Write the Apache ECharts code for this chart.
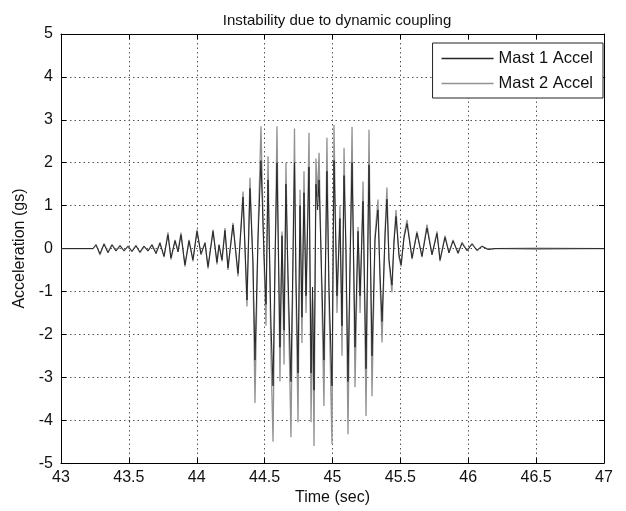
<!DOCTYPE html>
<html>
<head>
<meta charset="utf-8">
<script src="https://cdn.jsdelivr.net/npm/echarts@6/dist/echarts.min.js"></script>
<style>
  html, body { margin: 0; padding: 0; background: #fff; }
  #chart { width: 626px; height: 511px; }
</style>
</head>
<body>
<div id="chart"></div>
<script>
// sample times (sec) of the turning points
const timeSec = [
    43.000, 43.236, 43.258, 43.287, 43.317, 43.346, 43.376, 43.405, 43.435, 43.464,
    43.494, 43.523, 43.552, 43.582, 43.611, 43.641, 43.670, 43.700, 43.729, 43.759,
    43.788, 43.810, 43.840, 43.862, 43.884, 43.913, 43.943, 43.972, 44.002, 44.031,
    44.061, 44.083, 44.120, 44.149, 44.164, 44.186, 44.208, 44.230, 44.267, 44.304,
    44.341, 44.370, 44.392, 44.414, 44.429, 44.451, 44.473, 44.495, 44.510, 44.525,
    44.547, 44.562, 44.576, 44.591, 44.613, 44.628, 44.643, 44.657, 44.672, 44.694,
    44.709, 44.720, 44.731, 44.746, 44.761, 44.775, 44.790, 44.805, 44.827, 44.842,
    44.853, 44.864, 44.878, 44.890, 44.901, 44.937, 44.959, 44.974, 44.996, 45.011,
    45.033, 45.055, 45.070, 45.085, 45.099, 45.114, 45.129, 45.144, 45.166, 45.188,
    45.203, 45.225, 45.247, 45.269, 45.291, 45.313, 45.335, 45.350, 45.365, 45.387,
    45.401, 45.416, 45.438, 45.453, 45.468, 45.490, 45.505, 45.527, 45.549, 45.586,
    45.622, 45.659, 45.696, 45.733, 45.770, 45.792, 45.829, 45.858, 45.888, 45.925,
    45.954, 45.991, 46.028, 46.064, 46.101, 46.146, 46.197, 46.500, 47.000
];

// Mast 1 accel (gs)
const mast1 = [
    0, 0, 0.08, -0.12, 0.10, -0.10, 0.08, -0.06, 0.06, -0.05,
    0.05, -0.07, 0.06, -0.08, 0.06, -0.06, 0.08, -0.12, 0.12, -0.18,
    0.32, -0.22, 0.18, -0.08, 0.32, -0.38, 0.18, -0.26, 0.40, -0.12,
    0.12, -0.42, 0.40, -0.32, 0.08, -0.26, 0.42, -0.45, 0.55, -0.58,
    1.20, -1.20, 1.40, -0.30, -2.60, 0.20, 2.05, -0.10, -1.30, 1.60,
    -1.80, -3.20, -0.40, 2.00, -2.30, 0.30, -1.90, 1.50, -0.60, -3.10,
    -0.20, 2.00, -0.70, -2.90, 1.00, -1.60, 1.30, -1.10, 1.90, -2.90,
    -0.90, -3.30, 1.50, 0.90, 1.60, -2.60, 1.80, -0.90, -3.20, 2.05,
    -1.10, 0.70, -1.80, 1.70, 0.00, -3.10, -0.40, 2.00, -2.30, 0.40,
    -1.10, 1.10, -2.80, 1.95, -2.50, 0.20, 0.90, -0.60, -1.70, 0.30,
    1.15, -0.25, -0.85, 0.15, 0.75, -0.15, -0.38, 0.25, 0.58, -0.22,
    0.36, -0.18, 0.48, -0.14, 0.35, -0.26, 0.26, -0.10, 0.18, -0.10,
    0.12, -0.05, 0.10, -0.04, 0.05, -0.02, 0, -0.01, 0
];

// Mast 2 accel (gs)
const mast2 = [
    0, 0, 0.10, -0.15, 0.12, -0.08, 0.10, -0.05, 0.08, -0.06,
    0.06, -0.06, 0.08, -0.10, 0.05, -0.05, 0.10, -0.10, 0.15, -0.20,
    0.38, -0.26, 0.20, -0.05, 0.37, -0.42, 0.20, -0.30, 0.44, -0.15,
    0.15, -0.47, 0.44, -0.37, 0.10, -0.30, 0.48, -0.50, 0.60, -0.65,
    1.33, -1.35, 1.65, -0.40, -3.60, 0.30, 2.85, -0.20, -1.80, 2.15,
    -2.50, -4.50, -0.60, 2.85, -3.10, 0.40, -2.70, 2.00, -0.80, -4.40,
    -0.30, 2.80, -1.00, -4.05, 1.37, -2.20, 1.80, -1.50, 2.70, -4.05,
    -1.20, -4.60, 2.10, 1.20, 2.23, -3.67, 2.58, -1.20, -4.55, 2.88,
    -1.50, 1.00, -2.50, 2.35, 0.00, -4.33, -0.50, 2.84, -3.23, 0.50,
    -1.50, 1.56, -3.90, 2.77, -3.44, 0.30, 1.14, -0.80, -2.19, 0.40,
    1.42, -0.30, -1.02, 0.20, 0.90, -0.20, -0.42, 0.30, 0.67, -0.25,
    0.40, -0.20, 0.56, -0.15, 0.40, -0.30, 0.30, -0.10, 0.20, -0.12,
    0.15, -0.05, 0.12, -0.05, 0.06, -0.02, 0, 0.01, 0
];

const seriesNames = ['Mast 1 Accel', 'Mast 2 Accel'];

const font = "'Liberation Sans', Arial, Helvetica, sans-serif";
const dotted = { color: '#555', width: 1, type: [1.5, 3] };

function pairs(vals) {
    return timeSec.map((t, i) => [t, vals[i]]);
}

function boxAxis(extra) {
    return Object.assign({
        type: 'value',
        axisLine: { show: true, onZero: false, lineStyle: { color: '#000', width: 1 } },
        axisTick: { show: true, inside: true, length: 5, lineStyle: { color: '#000' } },
        axisLabel: { show: false },
        splitLine: { show: false }
    }, extra);
}

const chart = echarts.init(document.getElementById('chart'));
chart.setOption({
    backgroundColor: '#fff',
    animation: false,
    textStyle: { fontFamily: font },
    title: {
        text: 'Instability due to dynamic coupling',
        left: 332,
        textAlign: 'center',
        top: 8,
        textStyle: { fontFamily: font, fontSize: 15, fontWeight: 'normal', color: '#111' }
    },
    legend: {
        data: seriesNames,
        orient: 'vertical',
        right: 23,
        top: 43,
        icon: 'rect',
        itemWidth: 52,
        itemHeight: 1.5,
        itemGap: 8,
        padding: [7, 10, 6, 9],
        borderColor: '#222',
        borderWidth: 1,
        backgroundColor: '#fff',
        textStyle: { fontFamily: font, fontSize: 16.5, color: '#111' }
    },
    grid: { left: 61, right: 22, top: 34, bottom: 47, containLabel: false },
    xAxis: [
        boxAxis({
            min: 43, max: 47, interval: 0.5,
            position: 'bottom',
            name: 'Time (sec)',
            nameLocation: 'middle',
            nameGap: 25,
            nameTextStyle: { fontFamily: font, fontSize: 16, color: '#111' },
            axisLabel: { show: true, fontFamily: font, fontSize: 16, color: '#111', margin: 6 },
            splitLine: { show: true, lineStyle: dotted }
        }),
        boxAxis({ min: 43, max: 47, interval: 0.5, position: 'top' })
    ],
    yAxis: [
        boxAxis({
            min: -5, max: 5, interval: 1,
            position: 'left',
            name: 'Acceleration (gs)',
            nameLocation: 'middle',
            nameGap: 29,
            nameTextStyle: { fontFamily: font, fontSize: 16, color: '#111' },
            axisLabel: { show: true, fontFamily: font, fontSize: 16, color: '#111', margin: 8 },
            splitLine: { show: true, lineStyle: dotted }
        }),
        boxAxis({ min: -5, max: 5, interval: 1, position: 'right' })
    ],
    series: [
        {
            name: seriesNames[0],
            type: 'line',
            data: pairs(mast1),
            showSymbol: false,
            symbol: 'none',
            z: 4,
            itemStyle: { color: '#262626' },
            lineStyle: { color: '#262626', width: 1 }
        },
        {
            name: seriesNames[1],
            type: 'line',
            data: pairs(mast2),
            showSymbol: false,
            symbol: 'none',
            z: 3,
            itemStyle: { color: '#929292' },
            lineStyle: { color: '#929292', width: 1.3 }
        }
    ]
});
</script>
</body>
</html>
